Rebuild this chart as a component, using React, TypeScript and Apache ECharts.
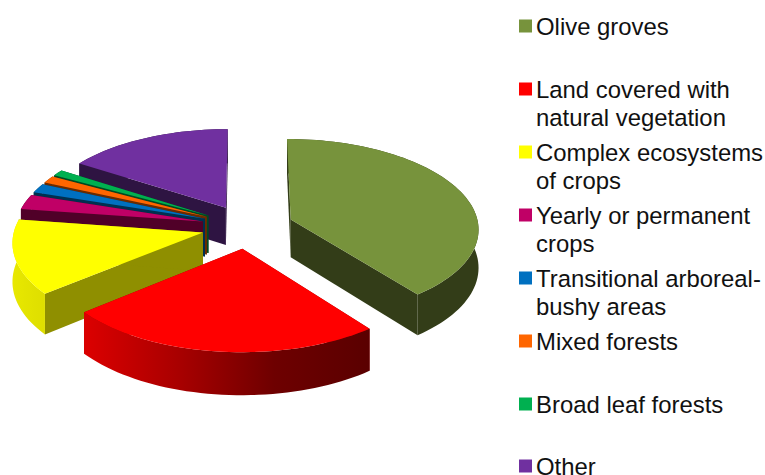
import React, { useEffect, useRef } from "react";
import * as echarts from "echarts";

const categories = [
  "Olive groves",
  "Land covered with\nnatural vegetation",
  "Complex ecosystems\nof crops",
  "Yearly or permanent\ncrops",
  "Transitional arboreal-\nbushy areas",
  "Mixed forests",
  "Broad leaf forests",
  "Other",
];
const values = [39.5, 24.5, 13.3, 2.7, 1.7, 1.3, 1.1, 15.9];
const topColors = ["#77933C", "#FF0000", "#FFFF00", "#C00066", "#0070C0", "#FF6600", "#00B050", "#7030A0"];
const wallColors = ["#333D18", "#8E0000", "#8F8F00", "#500028", "#00304F", "#6B2B00", "#004A22", "#2E1442"];
const arcStops: string[][] = [
  ["#333D18", "#333D18"],
  ["#DC0000", "#A80000", "#6E0000", "#5A0000"],
  ["#E8E800", "#DEDE00"],
  ["#500028", "#500028"],
  ["#00304F", "#00304F"],
  ["#6B2B00", "#6B2B00"],
  ["#004A22", "#004A22"],
  ["#2E1442", "#2E1442"],
];
// back-to-front painting order
const paintOrder = [7, 6, 5, 4, 3, 2, 0, 1];

const CX = 247.5, CY = 226.5, R = 188, K = 0.475, P = 0.0005, H = 38, EXPLODE = 46;
const rad = (d: number) => (d * Math.PI) / 180;
const total = values.reduce((a, b) => a + b, 0);

function project(X: number, Y: number, down: number): number[] {
  const f = 1 / (1 + P * Y);
  return [CX + X * f, CY - Y * K * f + H * f * down];
}

function sliceChildren(i: number) {
  const start = (values.slice(0, i).reduce((a, b) => a + b, 0) / total) * 360;
  const end = start + (values[i] / total) * 360;
  const mid = (start + end) / 2;
  const ox = EXPLODE * Math.sin(rad(mid));
  const oy = EXPLODE * Math.cos(rad(mid));
  const rim = (d: number, down: number) =>
    project(ox + R * Math.sin(rad(d)), oy + R * Math.cos(rad(d)), down);
  const steps = Math.max(2, Math.ceil((end - start) / 2));
  const arcAngles: number[] = [];
  for (let s = 0; s <= steps; s++) arcAngles.push(start + ((end - start) * s) / steps);
  const apexTop = project(ox, oy, 0);
  const apexBottom = project(ox, oy, 1);
  const radial = (d: number) => ({
    type: "polygon",
    shape: { points: [apexTop, rim(d, 0), rim(d, 1), apexBottom] },
    style: { fill: wallColors[i] },
    silent: true,
  });
  const stops = arcStops[i];
  return [
    radial(start),
    radial(end),
    {
      type: "polygon",
      shape: {
        points: [
          ...arcAngles.map((d) => rim(d, 0)),
          ...arcAngles.slice().reverse().map((d) => rim(d, 1)),
        ],
      },
      style: {
        fill: {
          type: "linear",
          x: 0,
          y: 0,
          x2: 1,
          y2: 0,
          colorStops: stops.map((color, n) => ({ offset: n / (stops.length - 1), color })),
        },
      },
      silent: true,
    },
    {
      type: "polygon",
      shape: { points: [apexTop, ...arcAngles.map((d) => rim(d, 0))] },
      style: { fill: topColors[i] },
      silent: true,
    },
  ];
}

const legendText = {
  fontFamily: "Liberation Sans",
  fontSize: 23.9,
  lineHeight: 28,
  color: "#111111",
  padding: [0, 0, 0, -1],
};

export default function App() {
  const ref = useRef<HTMLDivElement>(null);
  useEffect(() => {
    const chart = echarts.init(ref.current!, undefined, { renderer: "svg" });
    chart.setOption({
      animation: false,
      backgroundColor: "#ffffff",
      legend: [
        {
          show: true,
          orient: "vertical",
          left: 519,
          top: 12,
          height: 700,
          padding: 0,
          itemGap: 7,
          itemWidth: 13,
          itemHeight: 41,
          selectedMode: false,
          icon: "path://M0 0H13V13H0ZM0 41H0.01V41.01H0Z",
          data: categories.slice(0, 7),
          formatter: (name: string) => (name.includes("\n") ? name : name + "\n "),
          textStyle: legendText,
        },
        {
          show: true,
          orient: "vertical",
          left: 519,
          top: 454,
          padding: 0,
          itemWidth: 13,
          itemHeight: 13,
          selectedMode: false,
          icon: "rect",
          data: categories.slice(7),
          textStyle: { ...legendText, lineHeight: 18 },
        },
      ],
      series: paintOrder.map((i) => ({
        type: "custom",
        name: categories[i],
        coordinateSystem: "none",
        silent: true,
        itemStyle: { color: topColors[i] },
        data: [values[i]],
        renderItem: () => ({ type: "group", children: sliceChildren(i) }),
      })),
    });
    return () => chart.dispose();
  }, []);
  return <div ref={ref} style={{ position: "absolute", left: 0, top: 0, width: 765, height: 475 }} />;
}
